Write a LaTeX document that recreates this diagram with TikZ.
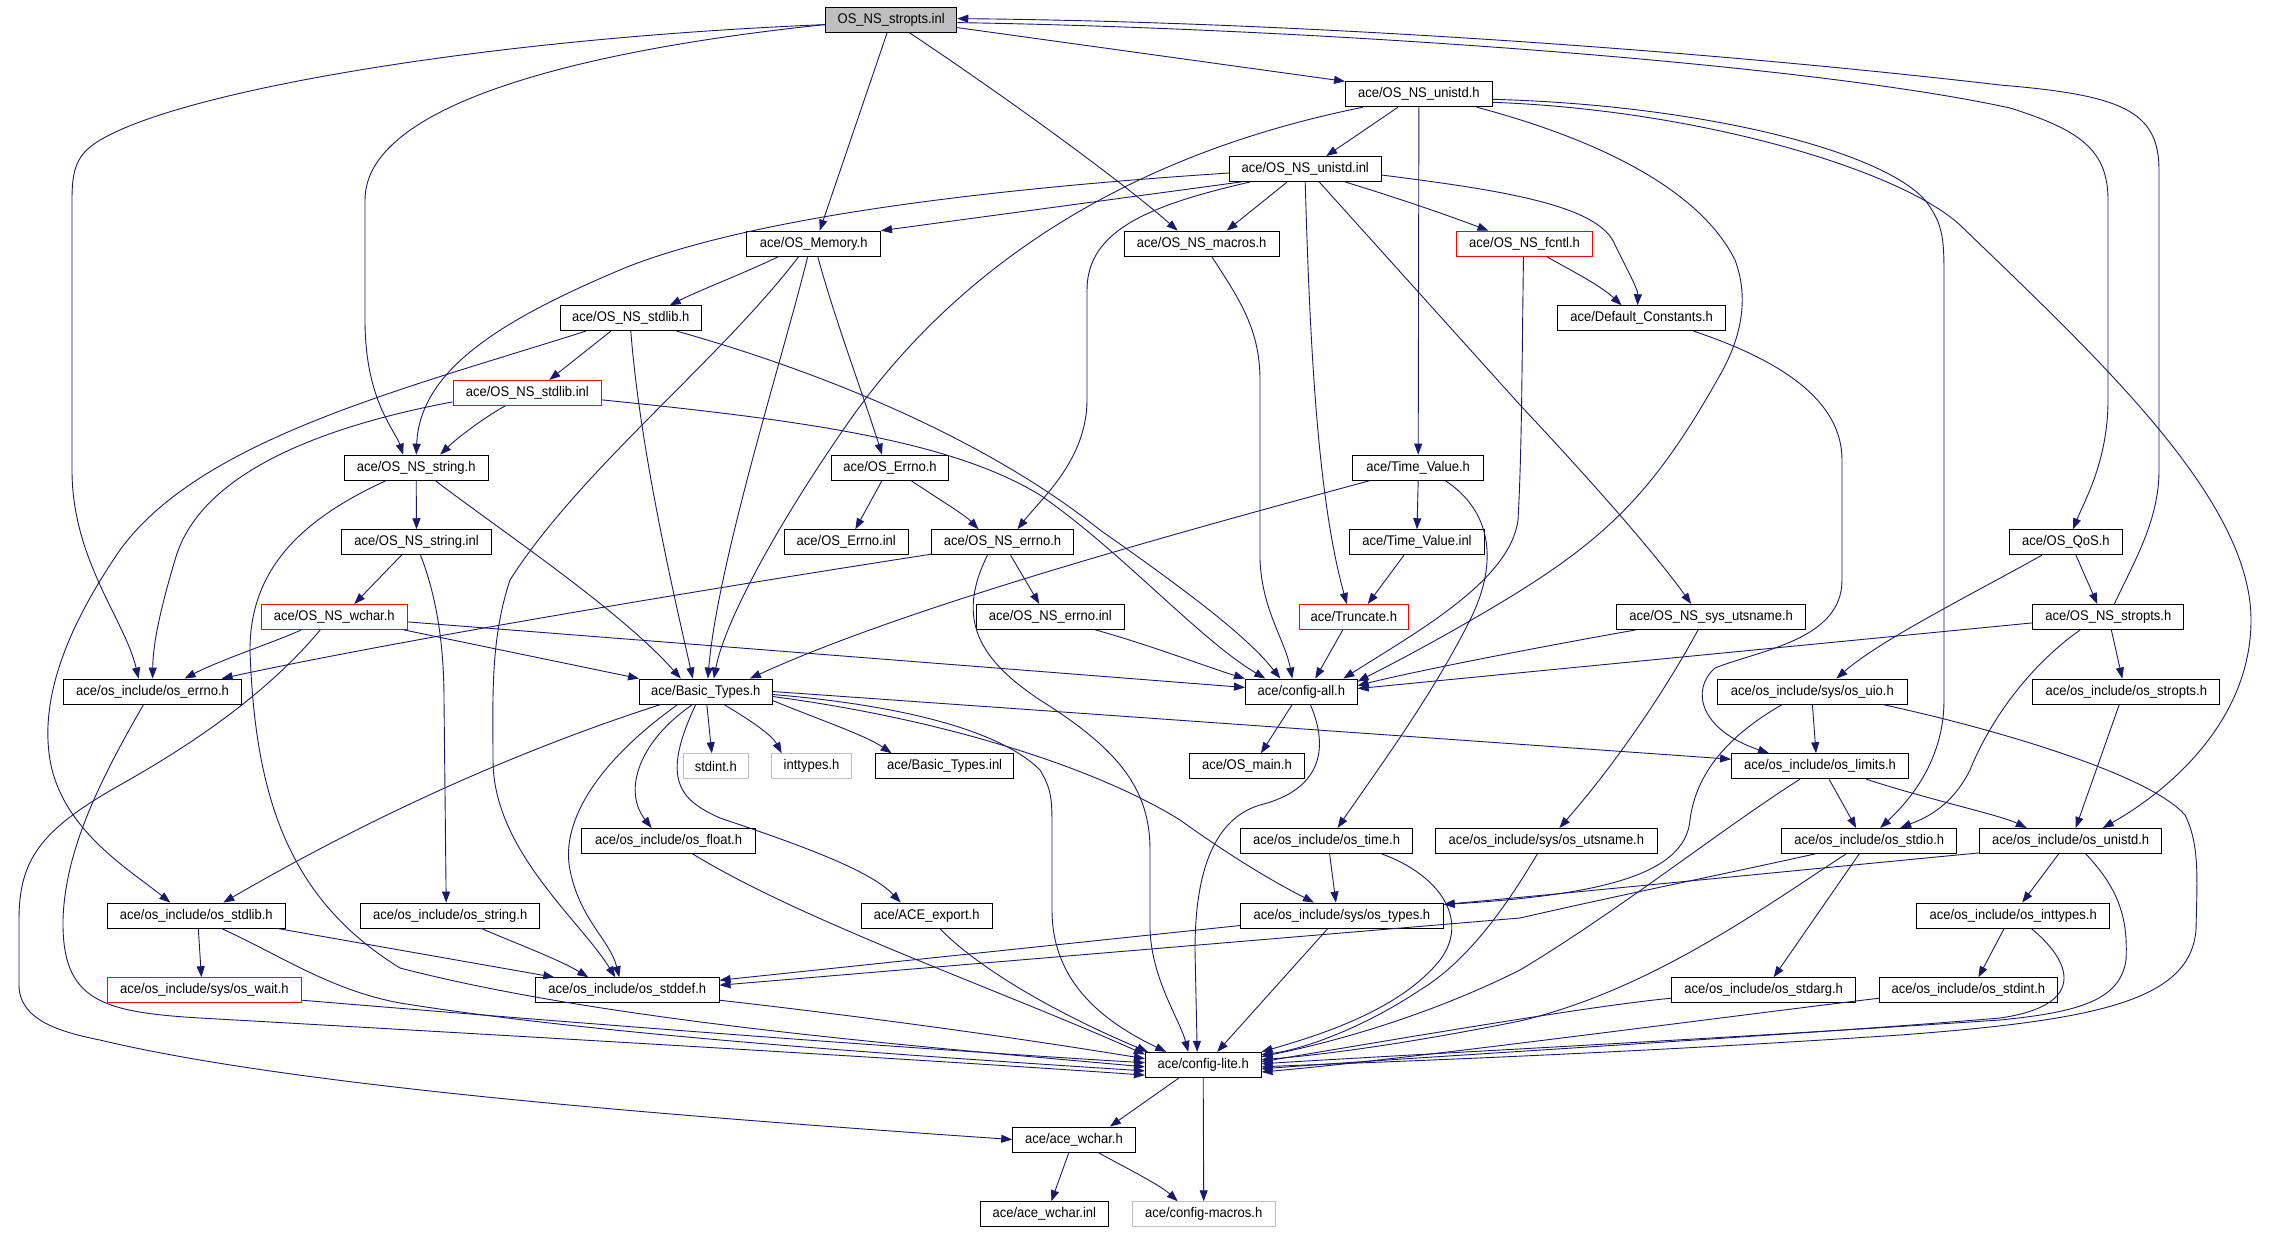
\documentclass[tikz,border=0pt]{standalone}
\usepackage{fontspec}
\setmainfont{Liberation Sans}[FakeStretch=0.93]
\usetikzlibrary{arrows.meta}
\definecolor{ec}{HTML}{191970}
\definecolor{gb}{HTML}{BFBFBF}
\newcommand\lbl{\fontsize{14}{16}\selectfont}
\begin{document}
\begin{tikzpicture}[x=1pt,y=-1pt,
 nb/.style={draw=black,line width=0.9pt,minimum height=25pt,inner sep=0pt,font=\lbl,text=black},
 rb/.style={nb,draw=red},
 gbx/.style={nb,draw=gb},
 tb/.style={nb,fill=gb},
 dep/.style={draw=ec,line width=0.9pt,-{Triangle[length=11pt,width=8pt]}}]
\fill[white] (0,0) rectangle (2284,1232);
\useasboundingbox (0,0) rectangle (2284,1232);
% nodes
\node[tb,minimum width=131.2pt] (top) at (891.2,19.6) {OS\_NS\_stropts.inl};
\node[nb,minimum width=146.8pt] (unistdh) at (1418.9,94.3) {ace/OS\_NS\_unistd.h};
\node[nb,minimum width=151.6pt] (unistdinl) at (1305.2,169) {ace/OS\_NS\_unistd.inl};
\node[nb,minimum width=133.7pt] (memory) at (813.7,243.6) {ace/OS\_Memory.h};
\node[nb,minimum width=154.6pt] (macros) at (1201.7,243.6) {ace/OS\_NS\_macros.h};
\node[rb,minimum width=136.3pt] (fcntl) at (1524.5,243.6) {ace/OS\_NS\_fcntl.h};
\node[nb,minimum width=140.9pt] (stdlibh) at (630.8,318.2) {ace/OS\_NS\_stdlib.h};
\node[nb,minimum width=168.2pt] (defconst) at (1641.6,318.2) {ace/Default\_Constants.h};
\node[rb,minimum width=148.7pt] (stdlibinl) at (527.3,392.9) {ace/OS\_NS\_stdlib.inl};
\node[nb,minimum width=144.3pt] (stringh) at (416.2,467.6) {ace/OS\_NS\_string.h};
\node[nb,minimum width=117.1pt] (errnoh) at (890,467.6) {ace/OS\_Errno.h};
\node[nb,minimum width=130.7pt] (tvh) at (1418.2,467.6) {ace/Time\_Value.h};
\node[nb,minimum width=149.7pt] (stringinl) at (416.5,542.2) {ace/OS\_NS\_string.inl};
\node[nb,minimum width=123.9pt] (errnoinl) at (846.3,542.2) {ace/OS\_Errno.inl};
\node[nb,minimum width=141.9pt] (nserrnoh) at (1002.5,542.2) {ace/OS\_NS\_errno.h};
\node[nb,minimum width=135.1pt] (tvinl) at (1417,542.2) {ace/Time\_Value.inl};
\node[nb,minimum width=112.1pt] (qos) at (2065.9,542.2) {ace/OS\_QoS.h};
\node[rb,minimum width=145.8pt] (wchar) at (334.3,616.9) {ace/OS\_NS\_wchar.h};
\node[nb,minimum width=148.2pt] (nserrnoinl) at (1050.3,616.9) {ace/OS\_NS\_errno.inl};
\node[rb,minimum width=108.8pt] (truncate) at (1353.8,616.9) {ace/Truncate.h};
\node[nb,minimum width=189.1pt] (utsname) at (1711.1,616.9) {ace/OS\_NS\_sys\_utsname.h};
\node[nb,minimum width=151.1pt] (nsstropts) at (2108.3,616.9) {ace/OS\_NS\_stropts.h};
\node[nb,minimum width=177.8pt] (oserrno) at (152.6,691.5) {ace/os\_include/os\_errno.h};
\node[nb,minimum width=132.6pt] (basic) at (705.8,691.5) {ace/Basic\_Types.h};
\node[nb,minimum width=111.8pt] (configall) at (1301.3,691.5) {ace/config-all.h};
\node[nb,minimum width=190pt] (uio) at (1812.4,691.5) {ace/os\_include/sys/os\_uio.h};
\node[nb,minimum width=187.1pt] (osstropts) at (2126.3,691.5) {ace/os\_include/os\_stropts.h};
\node[gbx,minimum width=65.1pt] (stdint) at (715.8,766.2) {stdint.h};
\node[gbx,minimum width=79.7pt] (inttypes) at (811.6,766.2) {inttypes.h};
\node[nb,minimum width=138pt] (basicinl) at (944.6,766.2) {ace/Basic\_Types.inl};
\node[nb,minimum width=114.7pt] (osmain) at (1246.9,766.2) {ace/OS\_main.h};
\node[nb,minimum width=176.9pt] (limits) at (1820,766.2) {ace/os\_include/os\_limits.h};
\node[nb,minimum width=174pt] (osfloat) at (668.6,840.9) {ace/os\_include/os\_float.h};
\node[nb,minimum width=172pt] (ostime) at (1326.6,840.9) {ace/os\_include/os\_time.h};
\node[nb,minimum width=222pt] (osutsname) at (1546.4,840.9) {ace/os\_include/sys/os\_utsname.h};
\node[nb,minimum width=174.9pt] (stdio) at (1869.2,840.9) {ace/os\_include/os\_stdio.h};
\node[nb,minimum width=182.2pt] (osunistd) at (2070.7,840.9) {ace/os\_include/os\_unistd.h};
\node[nb,minimum width=177.8pt] (osstdlib) at (196.3,915.5) {ace/os\_include/os\_stdlib.h};
\node[nb,minimum width=179.3pt] (osstring) at (450.2,915.5) {ace/os\_include/os\_string.h};
\node[nb,minimum width=131.3pt] (aceexport) at (926.7,915.5) {ace/ACE\_export.h};
\node[nb,minimum width=202.6pt] (ostypes) at (1341.9,915.5) {ace/os\_include/sys/os\_types.h};
\node[nb,minimum width=193pt] (inttypesh) at (2013.2,915.5) {ace/os\_include/os\_inttypes.h};
\node[rb,minimum width=193.9pt] (wait) at (204.4,990.2) {ace/os\_include/sys/os\_wait.h};
\node[nb,minimum width=183.6pt] (stddef) at (627.3,990.2) {ace/os\_include/os\_stddef.h};
\node[nb,minimum width=184.2pt] (stdarg) at (1763.7,990.2) {ace/os\_include/os\_stdarg.h};
\node[nb,minimum width=178.3pt] (stdintoi) at (1968.4,990.2) {ace/os\_include/os\_stdint.h};
\node[nb,minimum width=115.7pt] (lite) at (1203.2,1064.8) {ace/config-lite.h};
\node[nb,minimum width=122.4pt] (acewchar) at (1073.9,1139.5) {ace/ace\_wchar.h};
\node[nb,minimum width=127.3pt] (acewcharinl) at (1044.3,1214.2) {ace/ace\_wchar.inl};
\node[gbx,minimum width=142.9pt] (cmacros) at (1203.7,1214.2) {ace/config-macros.h};
% edges from top
\draw[dep] ([yshift=-8]top.east) -- (unistdh.north west);
\draw[dep] ([xshift=-4]top.south) -- ([xshift=6]memory.north);
\draw[dep] ([xshift=18]top.south) .. controls (1010,100) and (1120,180) .. ([xshift=-24]macros.north);
\draw[dep] ([yshift=-5]top.west) .. controls (600,48) and (365,100) .. (365,200) -- (365,320) .. controls (365,400) and (395,430) .. ([xshift=-13]stringh.north);
\draw[dep] ([yshift=-5]top.west) .. controls (500,38) and (220,85) .. (120,130) .. controls (80,148) and (72,160) .. (72,200) -- (72,470) .. controls (72,560) and (125,620) .. ([xshift=-14]oserrno.north);
\draw[dep] ([yshift=-3]top.east) .. controls (1300,28) and (1800,62) .. (2010,108) .. controls (2080,130) and (2108,150) .. (2108,200) -- (2108,400) .. controls (2108,460) and (2085,500) .. ([xshift=7]qos.north);
\draw[dep] ([xshift=6]nsstropts.north) .. controls (2135,560) and (2159,520) .. (2159,470) -- (2159,170) .. controls (2159,110) and (2120,95) .. (2000,85) .. controls (1700,50) and (1300,22) .. ([yshift=1]top.east);
% OS_NS_unistd.h
\draw[dep] ([xshift=-21]unistdh.south) -- ([xshift=21]unistdinl.north);
\draw[dep] (unistdh.south) -- (tvh.north);
\draw[dep] ([xshift=-56]unistdh.south) .. controls (1150,150) and (970,250) .. (850,420) .. controls (780,520) and (725,620) .. ([xshift=8]basic.north);
\draw[dep] ([xshift=58]unistdh.south) .. controls (1600,140) and (1700,190) .. (1735,260) .. controls (1750,300) and (1740,340) .. (1720,375) .. controls (1650,500) and (1600,545) .. (1480,615) .. controls (1420,650) and (1380,670) .. ([yshift=-3]configall.north east);
\draw[dep] ([yshift=-5]unistdh.east) .. controls (1700,105) and (1880,150) .. (1925,200) .. controls (1944,225) and (1944,240) .. (1944,280) -- (1944,700) .. controls (1944,760) and (1910,800) .. ([xshift=11]stdio.north);
\draw[dep] ([yshift=-8]unistdh.east) .. controls (1700,110) and (1900,170) .. (1960,225) .. controls (2100,360) and (2251,500) .. (2251,620) .. controls (2251,720) and (2170,790) .. ([xshift=32]osunistd.north);
% OS_NS_unistd.inl
\draw[dep] ([xshift=-64]unistdinl.south) -- (memory.north east);
\draw[dep] ([yshift=-4]unistdinl.west) .. controls (1000,188) and (760,215) .. (627,267) .. controls (500,320) and (420,370) .. (stringh.north);
\draw[dep] ([xshift=-18]unistdinl.south) -- ([xshift=25]macros.north);
\draw[dep] ([xshift=-55]unistdinl.south) .. controls (1150,205) and (1087,230) .. (1087,290) -- (1087,400) .. controls (1087,460) and (1040,500) .. ([xshift=15]nserrnoh.north);
\draw[dep] (unistdinl.south) .. controls (1310,350) and (1318,500) .. ([xshift=-7]truncate.north);
\draw[dep] ([xshift=14]unistdinl.south) -- (1520,405) .. controls (1600,490) and (1660,560) .. ([xshift=-20]utsname.north);
\draw[dep] ([xshift=40]unistdinl.south) .. controls (1420,205) and (1460,220) .. ([xshift=-36]fcntl.north);
\draw[dep] ([yshift=-6]unistdinl.east) .. controls (1500,190) and (1600,205) .. (1615,245) .. controls (1630,275) and (1638,290) .. ([xshift=-4]defconst.north);
% OS_Memory.h
\draw[dep] ([xshift=-35]memory.south) .. controls (740,275) and (700,290) .. ([xshift=39]stdlibh.north);
\draw[dep] ([xshift=-6]memory.south) .. controls (785,350) and (718,560) .. ([xshift=2]basic.north);
\draw[dep] ([xshift=4]memory.south) .. controls (835,320) and (865,400) .. ([xshift=-8]errnoh.north);
\draw[dep] ([xshift=-15]memory.south) .. controls (720,360) and (580,470) .. (510,580) .. controls (490,640) and (493,700) .. (493,760) .. controls (493,850) and (580,920) .. ([xshift=-12]stddef.north);
% OS_NS_stdlib.h
\draw[dep] ([xshift=-20]stdlibh.south) -- ([xshift=22]stdlibinl.north);
\draw[dep] (stdlibh.south) .. controls (640,450) and (675,600) .. ([xshift=-13]basic.north);
\draw[dep] ([xshift=-45]stdlibh.south) .. controls (400,390) and (200,440) .. (120,550) .. controls (65,630) and (40,700) .. (50,760) .. controls (62,830) and (130,870) .. ([xshift=-26]osstdlib.north);
\draw[dep] ([xshift=46]stdlibh.south) .. controls (850,380) and (1000,450) .. (1100,530) .. controls (1200,600) and (1250,640) .. ([xshift=-21]configall.north);
% OS_NS_stdlib.inl
\draw[dep] ([xshift=-22]stdlibinl.south) .. controls (480,420) and (455,440) .. ([xshift=24]stringh.north);
\draw[dep] ([yshift=-9]stdlibinl.west) .. controls (330,425) and (200,470) .. (175,560) .. controls (163,600) and (153,640) .. (oserrno.north);
\draw[dep] ([yshift=-7]stdlibinl.east) .. controls (800,420) and (950,440) .. (1040,495) .. controls (1120,550) and (1200,640) .. ([xshift=-36]configall.north);
% OS_NS_string.h / .inl
\draw[dep] (stringh.south) -- (stringinl.north);
\draw[dep] ([xshift=19]stringh.south) .. controls (500,530) and (620,610) .. ([xshift=-25]basic.north);
\draw[dep] ([xshift=-30]stringh.south) .. controls (300,520) and (250,570) .. (250,650) .. controls (255,800) and (290,900) .. (400,968) .. controls (600,1020) and (900,1045) .. (lite.182);
\draw[dep] ([xshift=-15]stringinl.south) -- ([xshift=20]wchar.north);
\draw[dep] ([xshift=4]stringinl.south) .. controls (438,600) and (444,650) .. (444,700) -- ([xshift=-4]osstring.north);
% OS_NS_wchar.h
\draw[dep] ([xshift=-33]wchar.south) .. controls (280,640) and (220,660) .. ([xshift=32]oserrno.north);
\draw[dep] ([xshift=-4]wchar.south east) -- (basic.north west);
\draw[dep] ([yshift=-5]wchar.east) -- ([yshift=4]configall.west);
\draw[dep] ([xshift=-14]wchar.south) .. controls (270,690) and (200,740) .. (120,785) .. controls (40,830) and (19,860) .. (19,920) -- (19,985) .. controls (19,1020) and (60,1032) .. (100,1040) .. controls (300,1088) and (700,1118) .. (acewchar.west);
% os_errno.h
\draw[dep] ([xshift=-9]oserrno.south) .. controls (100,780) and (65,850) .. (63,920) .. controls (62,1000) and (100,1012) .. (200,1018) .. controls (500,1035) and (900,1058) .. (lite.190);
% Basic_Types.h
\draw[dep] ([xshift=1]basic.south) -- ([xshift=-4]stdint.north);
\draw[dep] ([xshift=18]basic.south) .. controls (750,720) and (772,735) .. ([xshift=-30]inttypes.north);
\draw[dep] ([yshift=-9]basic.east) .. controls (820,720) and (865,735) .. ([xshift=-53]basicinl.north);
\draw[dep] (basic.east) -- ([yshift=7]limits.west);
\draw[dep] ([yshift=-3]basic.east) .. controls (900,705) and (1000,730) .. (1040,770) .. controls (1052,790) and (1052,800) .. (1052,830) -- (1052,910) .. controls (1052,980) and (1100,1020) .. ([xshift=-37]lite.north);
\draw[dep] ([yshift=-5]basic.east) .. controls (950,720) and (1100,770) .. (1180,820) .. controls (1250,870) and (1290,890) .. ([xshift=-28]ostypes.north);
\draw[dep] ([xshift=-45]basic.south) .. controls (550,740) and (400,800) .. ([xshift=27]osstdlib.north);
\draw[dep] ([xshift=-13]basic.south) .. controls (640,740) and (622,790) .. ([xshift=-17]osfloat.north);
\draw[dep] ([xshift=-28]basic.south) .. controls (600,760) and (560,820) .. (570,870) .. controls (580,920) and (610,940) .. ([xshift=-8]stddef.north);
\draw[dep] ([xshift=-10]basic.south) .. controls (660,780) and (680,800) .. (720,818) .. controls (800,845) and (870,870) .. ([xshift=-26]aceexport.north);
\draw[dep] ([xshift=13]aceexport.south) .. controls (980,970) and (1060,1015) .. ([xshift=3]lite.north west);
\draw[dep] ([xshift=24]osfloat.south) .. controls (800,920) and (1000,990) .. (lite.170);
% config-all.h
\draw[dep] ([xshift=-9]configall.south) -- ([xshift=14]osmain.north);
\draw[dep] ([xshift=9]configall.south) .. controls (1330,750) and (1320,790) .. (1260,805) .. controls (1210,820) and (1195,880) .. (1195,950) -- ([xshift=-6]lite.north);
% os_time.h / os_types.h
\draw[dep] ([xshift=3]ostime.south) -- ([xshift=-6]ostypes.north);
\draw[dep] ([xshift=55]ostime.south) .. controls (1440,875) and (1470,920) .. (1440,960) .. controls (1400,1010) and (1320,1035) .. (lite.north east);
\draw[dep] ([yshift=-10]ostypes.west) -- ([yshift=10]stddef.east);
\draw[dep] ([xshift=-14]ostypes.south) -- ([xshift=14]lite.north);
% os_stdio.h
\draw[dep] ([xshift=-54]stdio.south) .. controls (1720,875) and (1620,895) .. (1520,918) -- ([yshift=5]stddef.east);
\draw[dep] ([xshift=-23]stdio.south) .. controls (1760,910) and (1650,990) .. (1520,1021) .. controls (1400,1045) and (1320,1055) .. (lite.5);
\draw[dep] ([xshift=-10]stdio.south) -- ([xshift=10]stdarg.north);
% os_limits.h
\draw[dep] ([xshift=9]limits.south) -- ([xshift=-13]stdio.north);
\draw[dep] ([xshift=46]limits.south) .. controls (1930,800) and (2000,815) .. ([xshift=-44]osunistd.north);
\draw[dep] ([xshift=-20]limits.south) .. controls (1720,830) and (1620,910) .. (1520,970) .. controls (1420,1020) and (1320,1045) .. (lite.8);
% os_uio.h
\draw[dep] (uio.south) -- ([xshift=-4]limits.north);
\draw[dep] ([xshift=-30]uio.south) .. controls (1720,740) and (1695,780) .. (1690,820) .. controls (1685,875) and (1600,895) .. ([yshift=11]ostypes.east);
\draw[dep] ([xshift=70]uio.south) .. controls (2000,730) and (2150,775) .. (2185,815) .. controls (2200,845) and (2197,880) .. (2196,930) .. controls (2190,1000) and (2100,1020) .. (1900,1035) .. controls (1600,1055) and (1350,1063) .. (lite.358);
% os_stropts.h / os_unistd.h / os_inttypes.h
\draw[dep] ([xshift=-7]osstropts.south) -- ([xshift=5]osunistd.north);
\draw[dep] ([xshift=-12]osunistd.south) -- ([xshift=9]inttypesh.north);
\draw[dep] ([xshift=15]osunistd.south) .. controls (2120,890) and (2128,920) .. (2126,960) .. controls (2120,1000) and (2080,1012) .. (2000,1020) .. controls (1700,1040) and (1400,1055) .. (lite.1);
\draw[dep] ([yshift=-12]osunistd.west) .. controls (1800,870) and (1600,890) .. ([yshift=11]ostypes.east);
\draw[dep] ([xshift=-9]inttypesh.south) -- ([xshift=10]stdintoi.north);
\draw[dep] ([xshift=18]inttypesh.south) .. controls (2070,960) and (2090,1005) .. (2000,1018) .. controls (1800,1035) and (1400,1058) .. (lite.356);
\draw[dep] ([yshift=-8]stdarg.west) .. controls (1600,1005) and (1450,1030) .. (lite.3);
\draw[dep] ([yshift=-8]stdintoi.west) .. controls (1700,1020) and (1400,1060) .. (lite.353);
\draw[dep] ([xshift=-9]osutsname.south) .. controls (1510,900) and (1470,960) .. (1420,990) .. controls (1360,1030) and (1300,1050) .. (lite.10);
% os_stdlib.h etc.
\draw[dep] ([xshift=2]osstdlib.south) -- ([xshift=-3]wait.north);
\draw[dep] ([xshift=81]osstdlib.south) -- ([xshift=-73]stddef.north);
\draw[dep] ([xshift=25]osstdlib.south) .. controls (280,955) and (330,990) .. (400,1003) .. controls (600,1035) and (900,1055) .. (lite.186);
\draw[dep] ([xshift=31]osstring.south) .. controls (520,945) and (560,960) .. ([xshift=-39]stddef.north);
\draw[dep] ([yshift=-10]wait.east) .. controls (600,1025) and (900,1048) .. (lite.178);
\draw[dep] ([yshift=-10]stddef.east) .. controls (850,1015) and (1000,1035) .. (lite.174);
% config-lite.h and below
\draw[dep] ([xshift=-24]lite.south) -- ([xshift=36]acewchar.north);
\draw[dep] (lite.south) -- (cmacros.north);
\draw[dep] ([xshift=-5]acewchar.south) -- ([xshift=7]acewcharinl.north);
\draw[dep] ([xshift=24]acewchar.south) .. controls (1130,1170) and (1160,1185) .. ([xshift=-26]cmacros.north);
% errno group
\draw[dep] ([xshift=-8]errnoh.south) -- ([xshift=9]errnoinl.north);
\draw[dep] ([xshift=21]errnoh.south) .. controls (940,500) and (965,515) .. ([xshift=-24]nserrnoh.north);
\draw[dep] ([xshift=8]nserrnoh.south) -- ([xshift=-11]nserrnoinl.north);
\draw[dep] ([yshift=-12]nserrnoh.west) .. controls (700,590) and (400,640) .. ([xshift=69]oserrno.north);
\draw[dep] ([xshift=-15]nserrnoh.south) .. controls (955,620) and (980,660) .. (1040,700) .. controls (1120,750) and (1150,790) .. (1150,850) -- (1150,930) .. controls (1152,980) and (1180,1020) .. ([xshift=-15]lite.north);
\draw[dep] ([xshift=45]nserrnoinl.south) .. controls (1150,645) and (1210,668) .. (configall.north west);
% Time_Value
\draw[dep] (tvh.south) -- (tvinl.north);
\draw[dep] ([xshift=-48]tvh.south) .. controls (1150,540) and (900,610) .. ([xshift=44]basic.north);
\draw[dep] ([xshift=27]tvh.south) .. controls (1490,510) and (1500,560) .. (1470,620) .. controls (1430,700) and (1370,780) .. ([xshift=11]ostime.north);
\draw[dep] ([xshift=-13]tvinl.south) -- ([xshift=14]truncate.north);
\draw[dep] ([xshift=-11]truncate.south) -- ([xshift=14]configall.north);
% macros, fcntl, defaults
\draw[dep] ([xshift=10]macros.south) .. controls (1240,300) and (1260,330) .. (1260,380) -- (1260,560) .. controls (1262,610) and (1285,640) .. ([xshift=-9]configall.north);
\draw[dep] ([xshift=22]fcntl.south) .. controls (1570,270) and (1600,285) .. ([xshift=-20]defconst.north);
\draw[dep] ([xshift=-1]fcntl.south) .. controls (1522,350) and (1522,450) .. (1518,520) .. controls (1510,580) and (1420,630) .. ([xshift=42]configall.north);
\draw[dep] ([xshift=52]defconst.south) .. controls (1780,360) and (1842,400) .. (1842,460) -- (1842,580) .. controls (1842,640) and (1760,650) .. (1715,668) .. controls (1690,690) and (1700,730) .. ([xshift=-51]limits.north);
% QoS, stropts, utsname
\draw[dep] ([xshift=10]qos.south) -- ([xshift=-11]nsstropts.north);
\draw[dep] ([xshift=-24]qos.south) .. controls (1980,590) and (1880,640) .. ([xshift=24]uio.north);
\draw[dep] ([xshift=3]nsstropts.south) -- ([xshift=-4]osstropts.north);
\draw[dep] ([yshift=-6]nsstropts.west) -- ([yshift=-10]configall.north east);
\draw[dep] ([xshift=-28]nsstropts.south) .. controls (2030,665) and (1990,720) .. (1970,770) .. controls (1950,810) and (1920,820) .. ([xshift=31]stdio.north);
\draw[dep] ([xshift=-75]utsname.south) .. controls (1550,645) and (1420,670) .. ([yshift=-7]configall.north east);
\draw[dep] ([xshift=-13]utsname.south) .. controls (1660,700) and (1610,770) .. ([xshift=13]osutsname.north);
\end{tikzpicture}
\end{document}
